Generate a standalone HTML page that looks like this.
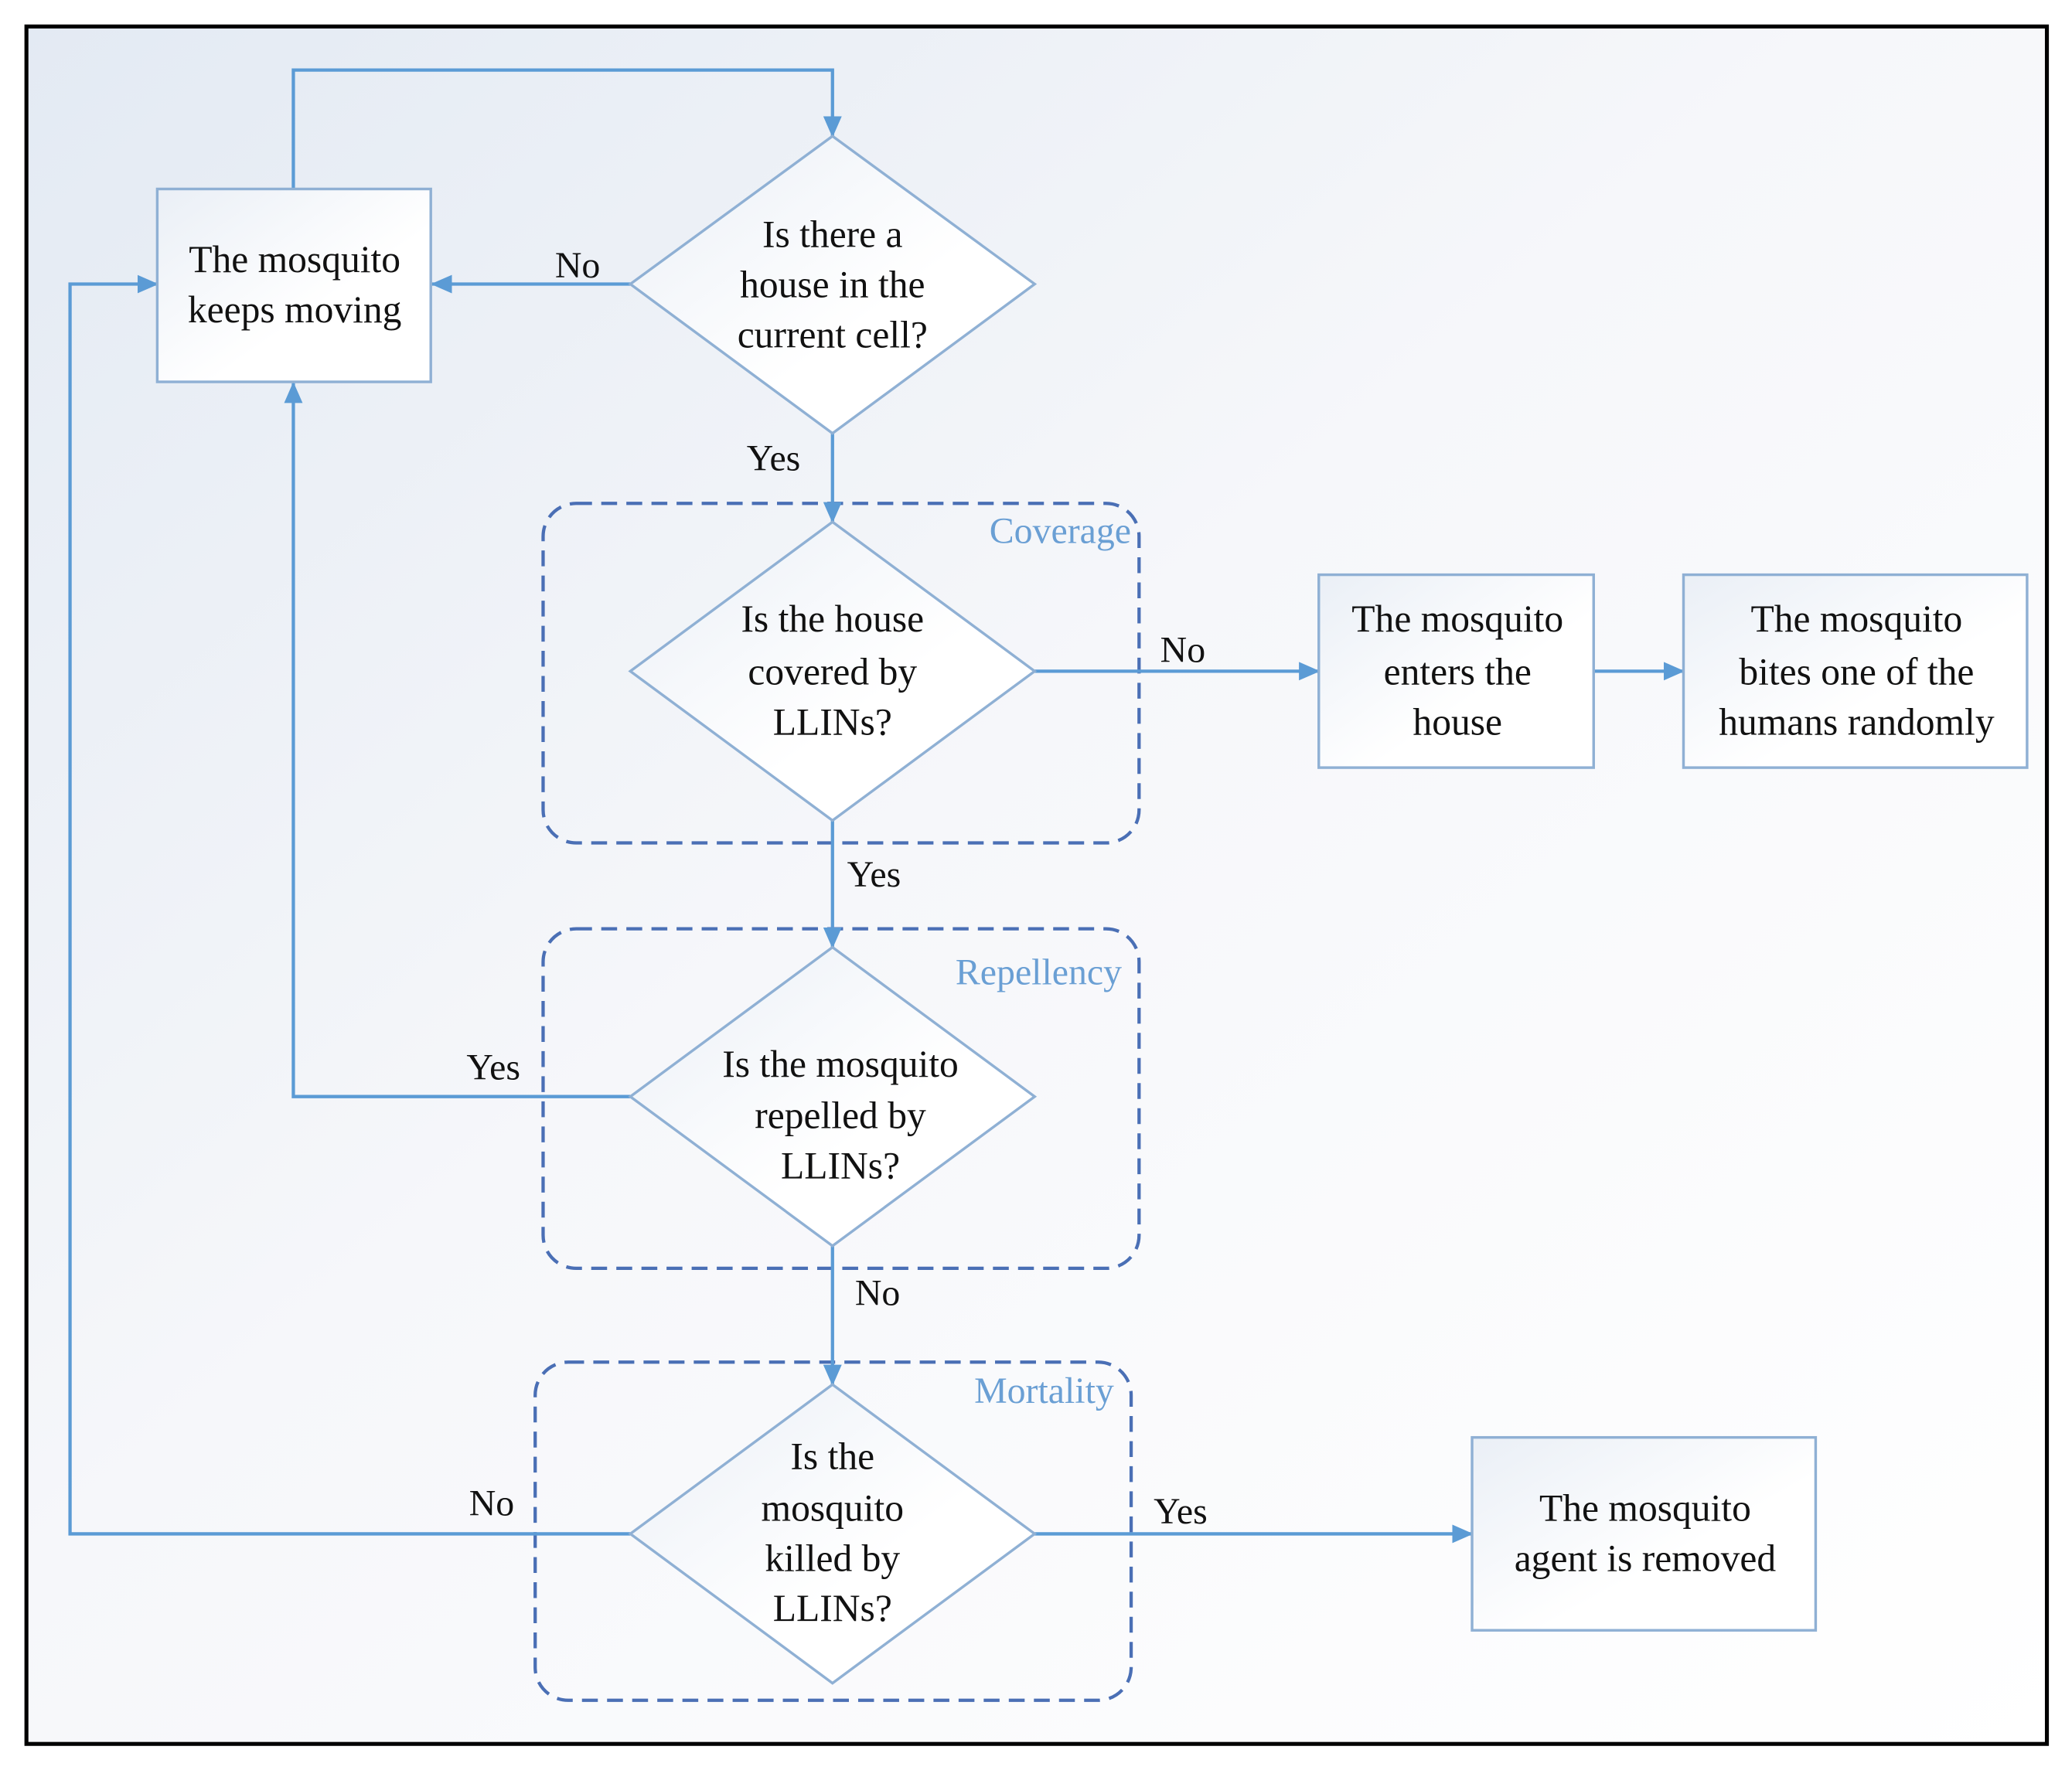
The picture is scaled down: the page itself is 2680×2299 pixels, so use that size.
<!DOCTYPE html>
<html><head><meta charset="utf-8"><style>html,body{margin:0;padding:0;background:#fff}svg{display:block}svg text{font-family:"Liberation Serif","Times New Roman","DejaVu Serif",serif}</style></head>
<body>
<svg width="2680" height="2299" viewBox="0 0 1568 1345" xmlns="http://www.w3.org/2000/svg">
<defs>
<linearGradient id="bg" x1="0" y1="0" x2="1" y2="1">
<stop offset="0" stop-color="#e3eaf3"/><stop offset="0.45" stop-color="#f6f7fa"/><stop offset="1" stop-color="#ffffff"/>
</linearGradient>
<linearGradient id="bx" x1="0" y1="0" x2="1" y2="1">
<stop offset="0" stop-color="#eaeff6"/><stop offset="0.6" stop-color="#ffffff"/>
</linearGradient>
<marker id="a" markerWidth="16" markerHeight="14" refX="15" refY="7" orient="auto" markerUnits="userSpaceOnUse">
<path d="M0,0 L16,7 L0,14 Z" fill="#5b9bd5"/></marker>
</defs>
<rect x="20" y="20" width="1529" height="1300" fill="url(#bg)" stroke="#000" stroke-width="3"/>
<g fill="none" stroke="#4a6fb5" stroke-width="2.5" stroke-dasharray="12,7">
<rect x="411" y="381" width="451" height="257" rx="25"/>
<rect x="411" y="703" width="451" height="257" rx="25"/>
<rect x="405" y="1031" width="451" height="256" rx="25"/>
</g>
<g fill="none" stroke="#5b9bd5" stroke-width="2.5">
<path d="M222,143 V53 H630 V103" marker-end="url(#a)"/>
<path d="M477,215 H327" marker-end="url(#a)"/>
<path d="M630,328 V395" marker-end="url(#a)"/>
<path d="M783,508 H998" marker-end="url(#a)"/>
<path d="M1206,508 H1274" marker-end="url(#a)"/>
<path d="M630,621 V717" marker-end="url(#a)"/>
<path d="M477,830 H222 V290" marker-end="url(#a)"/>
<path d="M630,943 V1048" marker-end="url(#a)"/>
<path d="M477,1161 H53 V215 H119" marker-end="url(#a)"/>
<path d="M783,1161 H1114" marker-end="url(#a)"/>
</g>
<g fill="url(#bx)" stroke="#8fb0d4" stroke-width="2">
<rect x="119" y="143" width="207" height="146"/>
<rect x="998" y="435" width="208" height="146"/>
<rect x="1274" y="435" width="260" height="146"/>
<rect x="1114" y="1088" width="260" height="146"/>
<path d="M630,103 L783,215 L630,328 L477,215 Z"/>
<path d="M630,395 L783,508 L630,621 L477,508 Z"/>
<path d="M630,717 L783,830 L630,943 L477,830 Z"/>
<path d="M630,1048 L783,1161 L630,1274 L477,1161 Z"/>
</g>
<g font-size="29" fill="#111" text-anchor="middle">
<text x="223" y="206">The mosquito</text><text x="223" y="244">keeps moving</text>
<text x="630" y="187">Is there a</text><text x="630" y="225">house in the</text><text x="630" y="263">current cell?</text>
<text x="630" y="478">Is the house</text><text x="630" y="518">covered by</text><text x="630" y="556">LLINs?</text>
<text x="636" y="815">Is the mosquito</text><text x="636" y="854">repelled by</text><text x="636" y="892">LLINs?</text>
<text x="630" y="1112">Is the</text><text x="630" y="1151">mosquito</text><text x="630" y="1189">killed by</text><text x="630" y="1227">LLINs?</text>
<text x="1103" y="478">The mosquito</text><text x="1103" y="518">enters the</text><text x="1103" y="556">house</text>
<text x="1405" y="478">The mosquito</text><text x="1405" y="518">bites one of the</text><text x="1405" y="556">humans randomly</text>
<text x="1245" y="1151">The mosquito</text><text x="1245" y="1189">agent is removed</text>
</g>
<g font-size="28" fill="#111">
<text x="420" y="210">No</text>
<text x="565" y="356">Yes</text>
<text x="878" y="501">No</text>
<text x="641" y="671">Yes</text>
<text x="353" y="817">Yes</text>
<text x="647" y="988">No</text>
<text x="355" y="1147">No</text>
<text x="873" y="1153">Yes</text>
</g>
<g font-size="28" fill="#6a9fd4" text-anchor="end">
<text x="856" y="411">Coverage</text>
<text x="849" y="745">Repellency</text>
<text x="843" y="1062">Mortality</text>
</g>
</svg>
</body></html>
